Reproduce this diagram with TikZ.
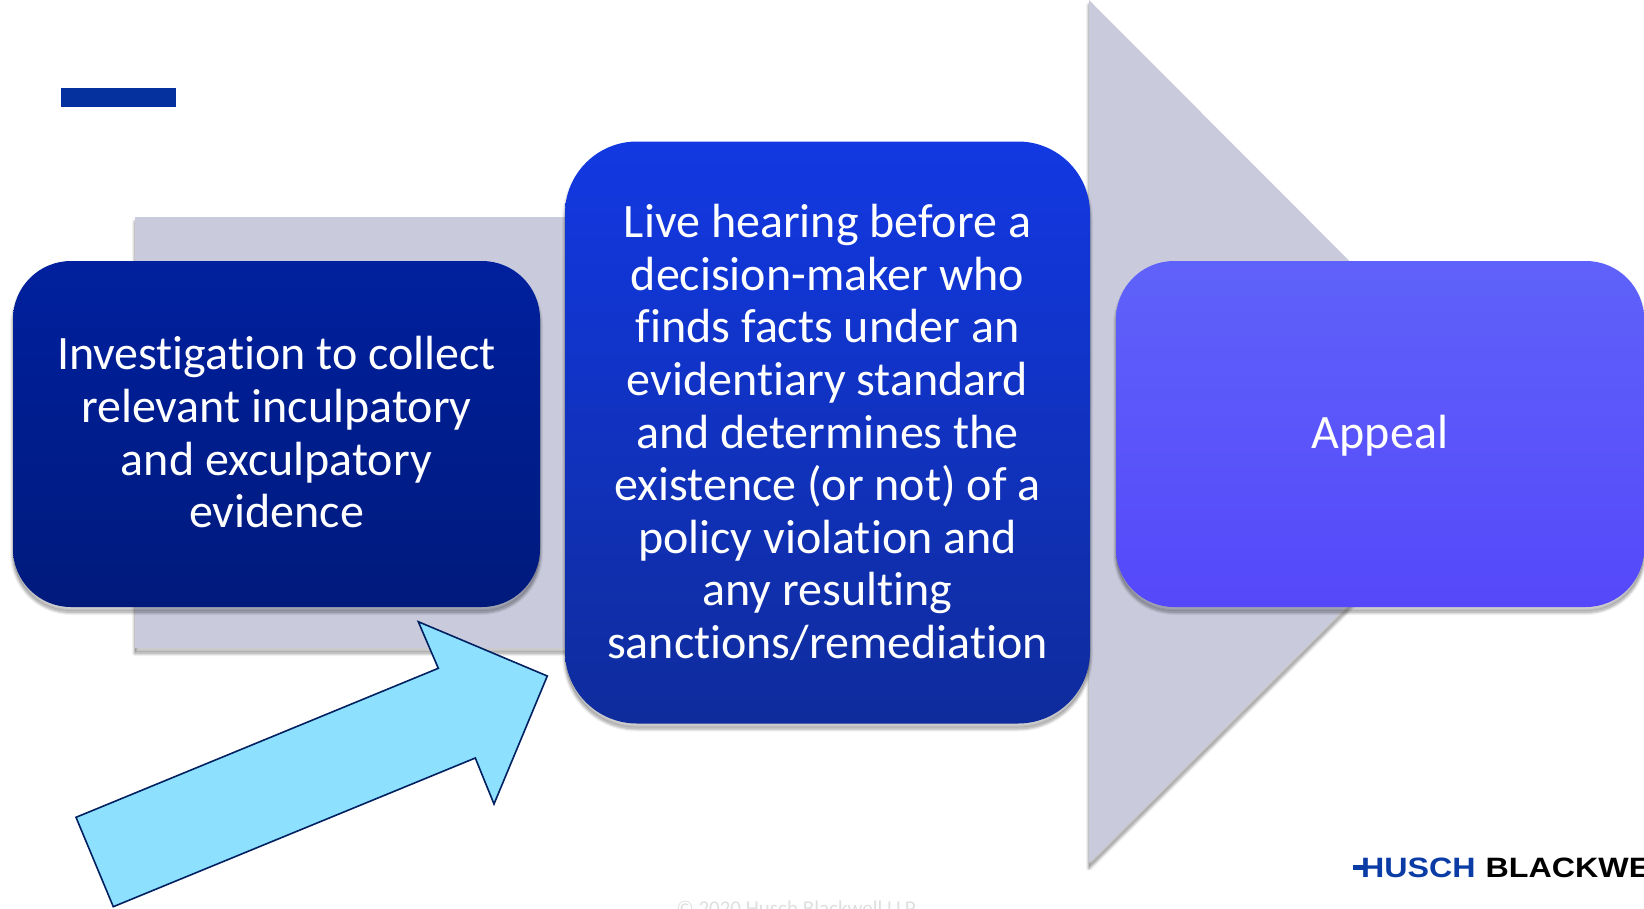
\documentclass[tikz,border=0pt]{standalone}
\usepackage{fontspec}
\setmainfont{Carlito}[Ligatures=NoCommon]
\newfontfamily\logofont{Liberation Sans}
\usetikzlibrary{shadings,calc}
\definecolor{greyarrow}{HTML}{C9CBDD}
\definecolor{barblue}{HTML}{04319E}
\definecolor{lightarrow}{HTML}{8DE1FF}
\definecolor{arrowline}{HTML}{002060}
\definecolor{logoblue}{HTML}{0B3CA5}
\definecolor{ltop}{HTML}{00209E}
\definecolor{lbot}{HTML}{001A7C}
\definecolor{ctop}{HTML}{1238E2}
\definecolor{cbot}{HTML}{0F2C9C}
\definecolor{rtop}{HTML}{5F62FA}
\definecolor{rbot}{HTML}{5548FA}
\tikzset{
  x=1pt,y=-1pt,
  softshadow/.style={
    preaction={draw=black,line join=round,line width=6pt,draw opacity=.05,fill=none,transform canvas={yshift=-5pt}},
    preaction={draw=black,line join=round,line width=4pt,draw opacity=.08,fill=none,transform canvas={yshift=-5pt}},
    preaction={draw=black,line join=round,line width=2pt,draw opacity=.12,fill=none,transform canvas={yshift=-5pt}},
    preaction={fill=black,fill opacity=.2,draw=none,transform canvas={yshift=-4pt}}},
  stepcard/.style={softshadow,rounded corners=#1,inner sep=0pt,align=center,text=white,
    font=\fontsize{48}{52.6}\selectfont,anchor=center},
  stepcard/.default=58pt,
}
\begin{document}
\begin{tikzpicture}
\useasboundingbox (0,0) rectangle (1644,908);
\clip (0,0) rectangle (1644,908);
% grey background arrow
\path[fill=greyarrow,softshadow]
  (135,217) -- (1089,217) -- (1089,0) -- (1521,433) -- (1089,863) -- (1089,648) -- (135,648) -- cycle;
% top bar
\fill[barblue] (61,88) rectangle (176,107);
% cards
\node[stepcard,minimum width=527pt,minimum height=346pt,top color=ltop,bottom color=lbot] (investigate) at (276.5,434)
  {\raisebox{-4.3pt}[\height][\depth]{\begin{tabular}{@{}c@{}}Investigation to collect\\relevant inculpatory\\and exculpatory\\evidence\end{tabular}}};
\node[stepcard=72pt,minimum width=525pt,minimum height=582pt,top color=ctop,bottom color=cbot] (hearing) at (827.5,432.5)
  {Live hearing before a\\decision-maker who\\finds facts under an\\evidentiary standard\\and determines the\\existence (or not) of a\\policy violation and\\any resulting\\sanctions/remediation};
\node[stepcard,minimum width=528pt,minimum height=346pt,top color=rtop,bottom color=rbot] (appeal) at (1380,434) {\raisebox{-2pt}[\height][\depth]{Appeal}};
% highlight arrow
\path[fill=lightarrow,draw=arrowline,line width=1.6pt,line join=miter]
  (76,817.3) -- (438.3,668.3) -- (418.3,621.7) -- (547.3,676) -- (494,804) -- (475.3,758) -- (113.3,906.7) -- cycle;
% footer
\node[anchor=base,text=black!13,font=\fontsize{21}{21}\selectfont,inner sep=0pt] (copyright) at (796,915) {© 2020 Husch Blackwell LLP};
\node[anchor=base west,inner sep=0pt,font=\logofont\bfseries\fontsize{28}{28}\selectfont] (logo) at (1361,877)
  {\scalebox{1.15}[1]{\textcolor{logoblue}{HUSCH}\hspace{8.7pt}\textcolor{black}{BLACKWE}}};
\fill[logoblue] (1353,864.5) rectangle (1364,869.5);
\end{tikzpicture}
\end{document}
